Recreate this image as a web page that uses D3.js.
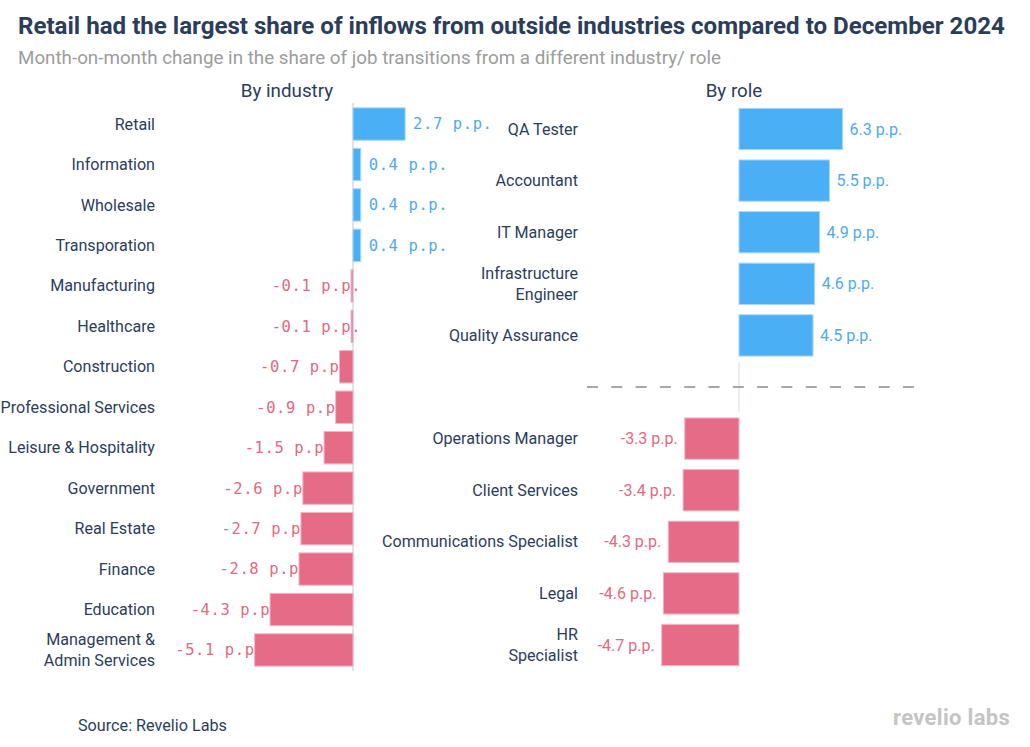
<!DOCTYPE html>
<html>
<head>
<meta charset="utf-8">
<script src="https://cdn.jsdelivr.net/npm/d3@7"></script>
<style>
  html, body { margin: 0; padding: 0; background: #fff; }
  svg { display: block; }
</style>
</head>
<body>
<svg id="chart" width="1030" height="747"></svg>
<script>
// ---------- DATA ----------
const industries = ["Retail", "Information", "Wholesale", "Transporation", "Manufacturing", "Healthcare",
  "Construction", "Professional Services", "Leisure & Hospitality", "Government", "Real Estate",
  "Finance", "Education", "Management & Admin Services"];
const industryValues = [2.7, 0.4, 0.4, 0.4, -0.1, -0.1, -0.7, -0.9, -1.5, -2.6, -2.7, -2.8, -4.3, -5.1];

const rolesUp = ["QA Tester", "Accountant", "IT Manager", "Infrastructure Engineer", "Quality Assurance"];
const rolesUpValues = [6.3, 5.5, 4.9, 4.6, 4.5];
const rolesDown = ["Operations Manager", "Client Services", "Communications Specialist", "Legal", "HR Specialist"];
const rolesDownValues = [-3.3, -3.4, -4.3, -4.6, -4.7];

// label line breaks as in the original
const labelLines = {
  "Management & Admin Services": ["Management &", "Admin Services"],
  "Infrastructure Engineer": ["Infrastructure", "Engineer"],
  "HR Specialist": ["HR", "Specialist"]
};

const titleText = "Retail had the largest share of inflows from outside industries compared to December 2024";
const subtitleText = "Month-on-month change in the share of job transitions from a different industry/ role";
const sourceText = "Source: Revelio Labs";

// ---------- STYLE ----------
const BLUE = "#4aaff5", BLUE_STROKE = "#a9d6f7", BLUE_TEXT = "#4eaaf0";
const PINK = "#e66b87", PINK_STROKE = "#f1b6c6", PINK_TEXT = "#e5687f";
const NAVY = "#2c3d5b";

const svg = d3.select("#chart");

svg.append("text").attr("x", 18).attr("y", 34)
  .attr("font-family", "Roboto").attr("font-weight", 700).attr("font-size", 24.1)
  .attr("fill", NAVY).text(titleText);
svg.append("text").attr("x", 18).attr("y", 64)
  .attr("font-family", "Roboto").attr("font-size", 18.8)
  .attr("fill", "#9c9c9c").text(subtitleText);

svg.append("text").attr("x", 287).attr("y", 97).attr("text-anchor", "middle")
  .attr("font-family", "Roboto").attr("font-size", 18.8).attr("fill", NAVY).text("By industry");
svg.append("text").attr("x", 734).attr("y", 97).attr("text-anchor", "middle")
  .attr("font-family", "Roboto").attr("font-size", 18.8).attr("fill", NAVY).text("By role");

function drawLabel(g, x, yc, name) {
  const lines = labelLines[name] || [name];
  const lh = 20.5;
  const t = g.append("text").attr("x", x).attr("text-anchor", "end")
    .attr("font-family", "Roboto").attr("font-size", 16.1).attr("fill", NAVY);
  lines.forEach((ln, i) => {
    t.append("tspan").attr("x", x)
      .attr("y", yc + (i - (lines.length - 1) / 2) * lh)
      .attr("dy", "0.35em").text(ln);
  });
}

// ---------- LEFT PANEL: by industry ----------
const indData = industries.map((n, i) => ({ name: n, value: industryValues[i] }));
const yL = d3.scaleBand().domain(industries).range([103.8, 670.2]).paddingInner(0.2).paddingOuter(0.1);
const xL = d3.scaleLinear().domain([-5.1, 2.7]).range([254.6, 405.1]);
const gL = svg.append("g");

gL.append("line").attr("x1", xL(0)).attr("x2", xL(0)).attr("y1", 103).attr("y2", 671)
  .attr("stroke", "#e2e2e8").attr("stroke-width", 2);

indData.forEach(d => drawLabel(gL, 155, yL(d.name) + yL.bandwidth() / 2, d.name));

gL.selectAll("text.val").data(indData).enter().append("text")
  .attr("class", "val")
  .attr("x", d => d.value >= 0 ? xL(d.value) + 8 : xL(d.value) + 10)
  .attr("y", d => yL(d.name) + yL.bandwidth() / 2)
  .attr("dy", "0.35em")
  .attr("text-anchor", d => d.value >= 0 ? "start" : "end")
  .attr("font-family", "DejaVu Sans Mono").attr("font-size", 15.5)
  .attr("letter-spacing", 0.6)
  .attr("fill", d => d.value >= 0 ? BLUE_TEXT : PINK_TEXT)
  .text(d => d.value.toFixed(1) + " p.p.");

gL.selectAll("rect").data(indData).enter().append("rect")
  .attr("x", d => xL(Math.min(0, d.value)))
  .attr("y", d => yL(d.name))
  .attr("width", d => Math.abs(xL(d.value) - xL(0)))
  .attr("height", yL.bandwidth())
  .attr("fill", d => d.value >= 0 ? BLUE : PINK)
  .attr("stroke", d => d.value >= 0 ? BLUE_STROKE : PINK_STROKE)
  .attr("stroke-width", 1);

// ---------- RIGHT PANEL: by role ----------
const GAP = "__gap__";
const roleDomain = [...rolesUp, GAP, ...rolesDown];
const roleData = rolesUp.map((n, i) => ({ name: n, value: rolesUpValues[i] }))
  .concat(rolesDown.map((n, i) => ({ name: n, value: rolesDownValues[i] })));
const yR = d3.scaleBand().domain(roleDomain).range([103.2, 670.8]).paddingInner(0.2).paddingOuter(0.1);
const xR = d3.scaleLinear().domain([-4.7, 6.3]).range([661.7, 842.6]);
const gR = svg.append("g");

const gapY = yR(GAP) + yR.bandwidth() / 2;
gR.append("line").attr("x1", xR(0)).attr("x2", xR(0))
  .attr("y1", yR(GAP) - 4).attr("y2", yR(GAP) + yR.bandwidth() + 4)
  .attr("stroke", "#dde7f3").attr("stroke-width", 1.5);
gR.append("line").attr("x1", 587).attr("x2", 915).attr("y1", gapY).attr("y2", gapY)
  .attr("stroke", "#8a8a8a").attr("stroke-width", 1.6).attr("stroke-dasharray", "11,13.3");

roleData.forEach(d => drawLabel(gR, 578, yR(d.name) + yR.bandwidth() / 2, d.name));

gR.selectAll("rect").data(roleData).enter().append("rect")
  .attr("x", d => xR(Math.min(0, d.value)))
  .attr("y", d => yR(d.name))
  .attr("width", d => Math.abs(xR(d.value) - xR(0)))
  .attr("height", yR.bandwidth())
  .attr("fill", d => d.value >= 0 ? BLUE : PINK)
  .attr("stroke", d => d.value >= 0 ? BLUE_STROKE : PINK_STROKE)
  .attr("stroke-width", 1);

gR.selectAll("text.val").data(roleData).enter().append("text")
  .attr("class", "val")
  .attr("x", d => d.value >= 0 ? xR(d.value) + 7 : xR(d.value) - 7)
  .attr("y", d => yR(d.name) + yR.bandwidth() / 2)
  .attr("dy", "0.35em")
  .attr("text-anchor", d => d.value >= 0 ? "start" : "end")
  .attr("font-family", "Roboto").attr("font-size", 16)
  .attr("fill", d => d.value >= 0 ? BLUE_TEXT : PINK_TEXT)
  .text(d => d.value.toFixed(1) + " p.p.");

// ---------- FOOTER ----------
svg.append("text").attr("x", 78).attr("y", 731)
  .attr("font-family", "Roboto").attr("font-size", 16.2).attr("fill", NAVY).text(sourceText);
svg.append("text").attr("x", 1010).attr("y", 725).attr("text-anchor", "end")
  .attr("font-family", "Roboto").attr("font-weight", 700).attr("font-size", 22)
  .attr("letter-spacing", 0.3)
  .attr("fill", "#c4c4c4").text("revelio labs");
</script>
</body>
</html>
